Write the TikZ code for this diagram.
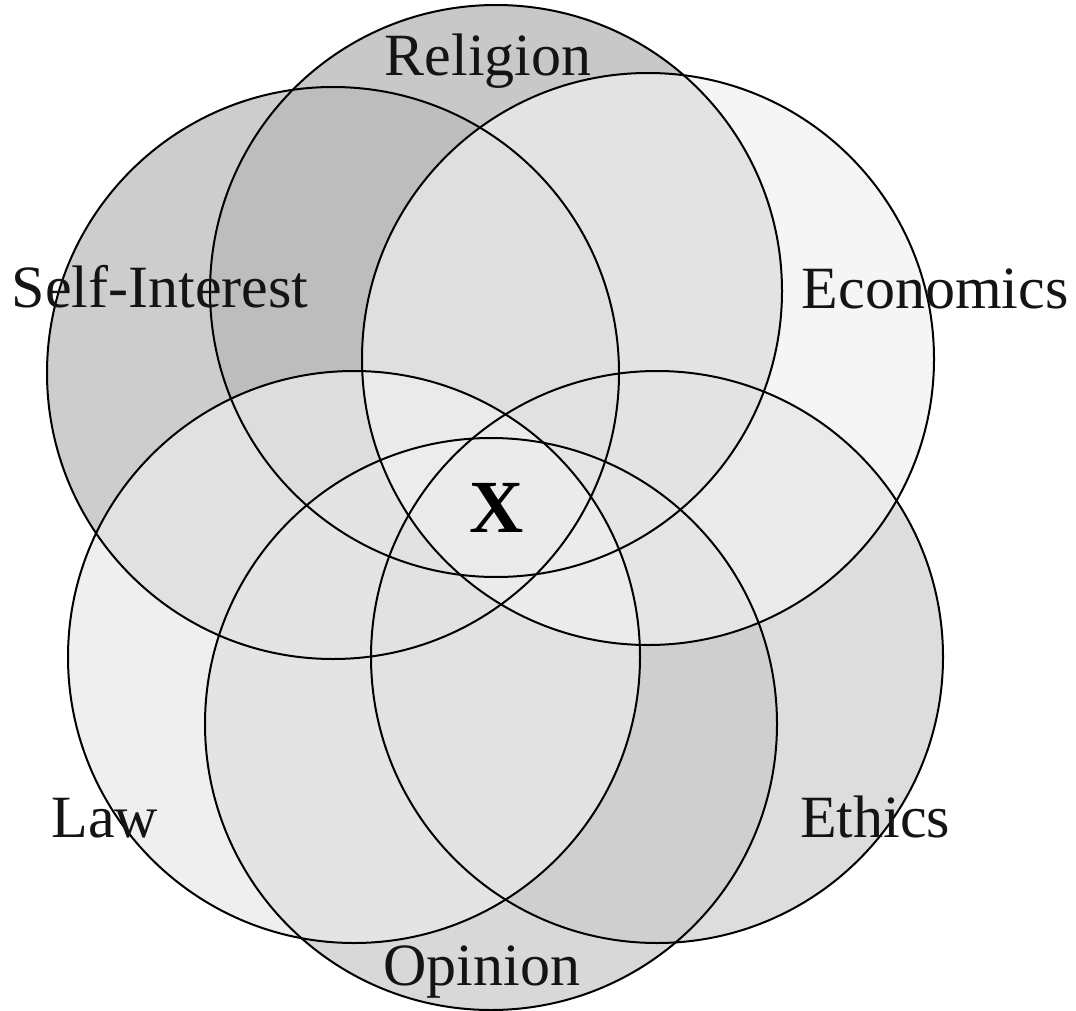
\documentclass[tikz,border=0pt]{standalone}
\usepackage{fontspec}
\setmainfont{Liberation Serif}
\begin{document}
\begin{tikzpicture}[x=1pt,y=-1pt,
  ring/.style={draw=black,line width=2pt},
  lbl/.style={anchor=base,inner sep=0pt,font=\fontsize{60}{60}\selectfont,text=black!92}]
\useasboundingbox (0,0) rectangle (1076,1011);
\fill[white] (0,0) rectangle (1076,1011);
\definecolor{crel}{gray}{0.784}
\definecolor{cself}{gray}{0.725}
\definecolor{copi}{gray}{0.847}
\definecolor{ceth}{gray}{0.796}
\definecolor{claw}{gray}{0.918}
\definecolor{ceco}{gray}{0.945}
\coordinate (rel) at (496,291);
\coordinate (self) at (333,373);
\coordinate (eco) at (648,359);
\coordinate (law) at (354,657);
\coordinate (eth) at (657,657);
\coordinate (opi) at (491,724);
\def\rr{286}
% fills
\fill[crel] (rel) circle (\rr);
\fill[cself,fill opacity=0.71] (self) circle (\rr);
\fill[copi] (opi) circle (\rr);
\fill[ceth,fill opacity=0.64] (eth) circle (\rr);
\fill[claw,fill opacity=0.72] (law) circle (\rr);
\fill[ceco,fill opacity=0.66] (eco) circle (\rr);
% outlines
\foreach \c in {rel,self,opi,eth,law,eco}{\draw[ring] (\c) circle (\rr);}
% labels
\node[lbl] (tRel) at (488,76) {Religion};
\node[lbl] (tSelf) at (160,307) {Self-Interest};
\node[lbl] (tEco) at (935,308) {Economics};
\node[lbl] (tLaw) at (105,837) {Law};
\node[lbl] (tEth) at (875,837) {Ethics};
\node[lbl] (tOpi) at (482,985) {Opinion};
\node[lbl,font=\fontsize{75}{75}\selectfont\bfseries,text=black] (tX) at (497,532) {X};
\end{tikzpicture}
\end{document}
